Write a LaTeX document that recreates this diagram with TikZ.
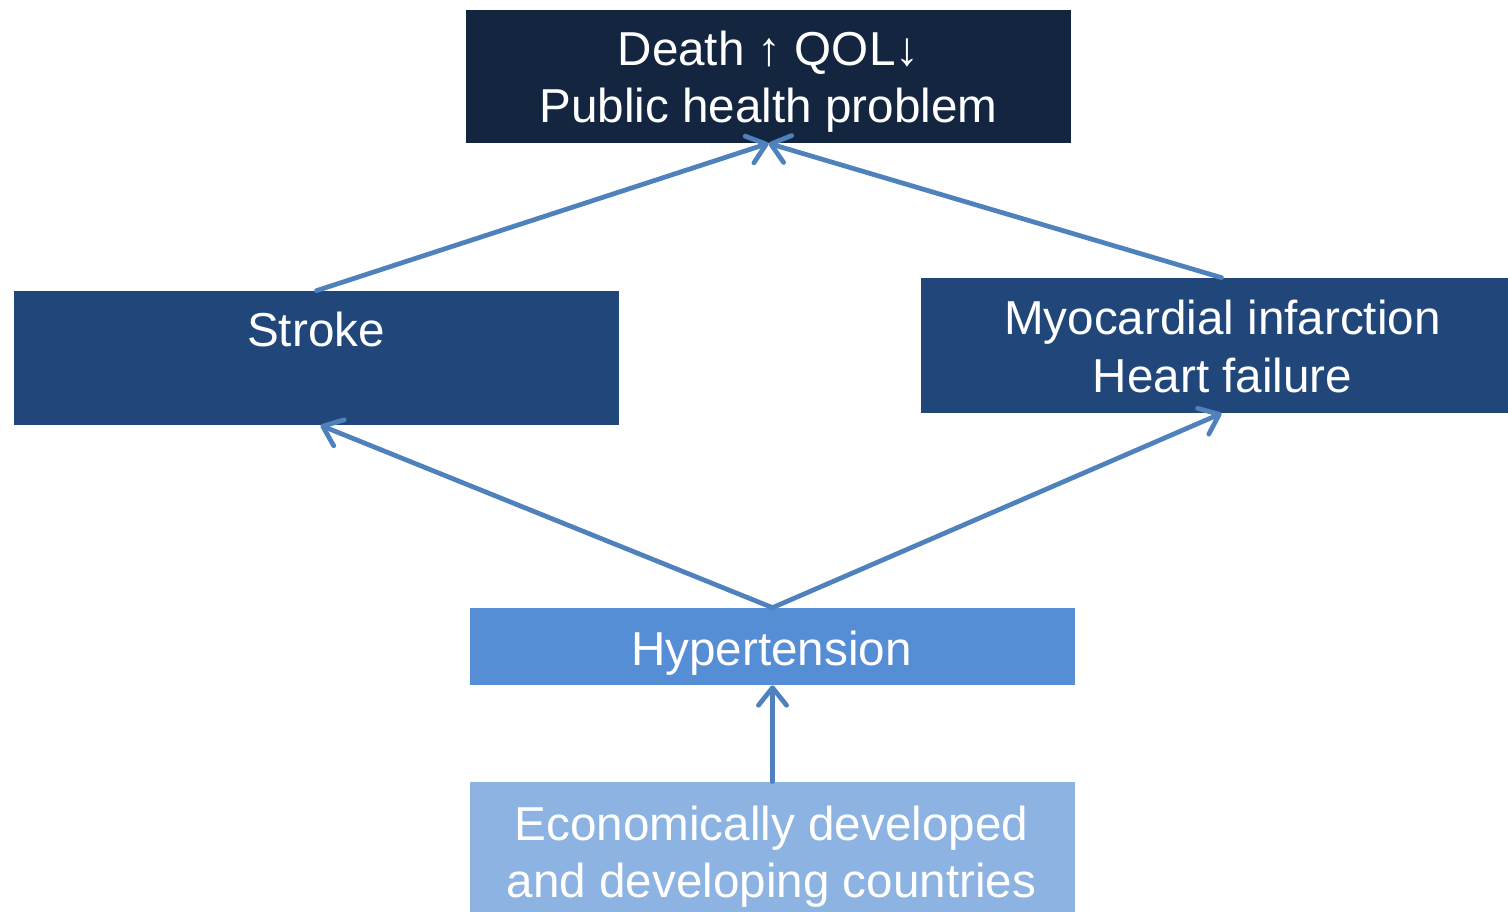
\documentclass[tikz,border=0pt]{standalone}
\usepackage{fontspec}
\setmainfont{Liberation Sans}
\usetikzlibrary{arrows.meta}
\definecolor{navy}{HTML}{14263F}
\definecolor{midblue}{HTML}{21477A}
\definecolor{hypblue}{HTML}{558ED5}
\definecolor{econblue}{HTML}{8DB3E2}
\definecolor{arrowblue}{HTML}{4F81BD}
\tikzset{
  box/.style={rectangle, inner sep=0pt},
  txt/.style={inner sep=0pt, text=white, anchor=base,
    font=\fontsize{27.1}{33}\selectfont},
  link/.style={draw=arrowblue, line width=2.7pt, line cap=round,
    -{Straight Barb[length=10pt,width=16pt,round]}},
}
\begin{document}
\begin{tikzpicture}[x=0.02cm,y=-0.02cm]
\useasboundingbox (0,0) rectangle (1508,912);
\node[box, fill=navy, minimum width=605*0.02cm, minimum height=133*0.02cm] (top) at (768.5,76.5) {};
\node[box, fill=midblue, minimum width=605*0.02cm, minimum height=134*0.02cm] (stroke) at (316.5,358) {};
\node[box, fill=midblue, minimum width=587*0.02cm, minimum height=135*0.02cm] (mi) at (1214.5,345.5) {};
\node[box, fill=hypblue, minimum width=605*0.02cm, minimum height=77*0.02cm] (hyp) at (772.5,646.5) {};
\node[box, fill=econblue, minimum width=605*0.02cm, minimum height=130*0.02cm] (econ) at (772.5,847) {};
% texts
\node[txt] (top1) at (768.5,66) {Death ↑ QOL↓};
\node[txt] (top2) at (768.5,123) {Public health problem};
\node[txt] (stroket) at (316,346) {Stroke};
\node[txt] (mi1) at (1222.5,335) {Myocardial infarction};
\node[txt] (mi2) at (1222.5,392) {Heart failure};
\node[txt] (hypt) at (771.5,665) {Hypertension};
\node[txt] (econ1) at (771.5,840) {Economically developed};
\node[txt] (econ2) at (771.5,897) {and developing countries};
% connectors
\draw[link] (stroke.north) -- (top.south);
\draw[link] ([xshift=7*0.02cm]mi.north) -- (top.south);
\draw[link] (hyp.north) -- ([xshift=4*0.02cm]stroke.south);
\draw[link] (hyp.north) -- ([xshift=7*0.02cm]mi.south);
\draw[link] (econ.north) -- (hyp.south);
\end{tikzpicture}
\end{document}
